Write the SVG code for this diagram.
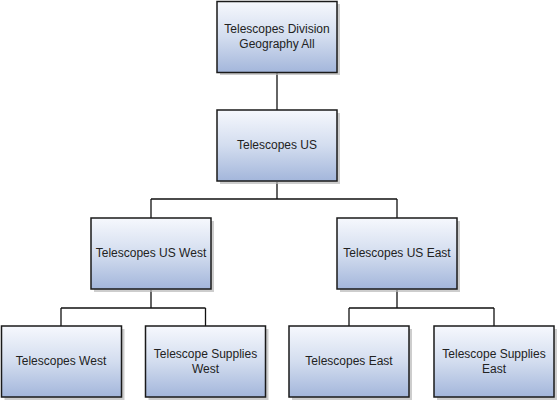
<svg xmlns="http://www.w3.org/2000/svg" width="558" height="402" viewBox="0 0 558 402">
<defs>
<linearGradient id="g" x1="0" y1="0" x2="0" y2="1">
<stop offset="0" stop-color="#f6f8fd"/>
<stop offset="0.5" stop-color="#d3ddef"/>
<stop offset="1" stop-color="#a3b6db"/>
</linearGradient>
<style>
.box{fill:url(#g);stroke:#1a1a1a;stroke-width:1.5}
.sh{fill:#b8b8b8;opacity:0.7}
.t{font-family:"Liberation Sans",Arial,sans-serif;font-size:12px;fill:#222;text-anchor:middle}
.c{fill:none;stroke:#111;stroke-width:1.3}
</style>
</defs>
<g id="connectors">
<path class="c" d="M277 73V110"/>
<path class="c" d="M277 182V199M151 199H397M151 199V218M397 199V218"/>
<path class="c" d="M151 290V308M61 308H205.5M61 308V326M205.5 308V326"/>
<path class="c" d="M397 290V308M349 308H494M349 308V326M494 308V326"/>
</g>
<g id="n1"><rect class="sh" x="220" y="4" width="120" height="71"/><rect class="box" x="217" y="1.5" width="120" height="71"/><text class="t" x="277" y="33">Telescopes Division</text><text class="t" x="277" y="48">Geography All</text></g>
<g id="n2"><rect class="sh" x="220" y="113" width="120" height="71"/><rect class="box" x="217" y="110" width="120" height="71"/><text class="t" x="277" y="149">Telescopes US</text></g>
<g id="n3"><rect class="sh" x="94" y="221" width="120" height="71"/><rect class="box" x="91" y="218" width="120" height="71"/><text class="t" x="151" y="257">Telescopes US West</text></g>
<g id="n4"><rect class="sh" x="340" y="221" width="120" height="71"/><rect class="box" x="337" y="218" width="120" height="71"/><text class="t" x="397" y="257">Telescopes US East</text></g>
<g id="n5"><rect class="sh" x="4.5" y="329" width="120" height="71"/><rect class="box" x="1.5" y="326" width="120" height="71"/><text class="t" x="61" y="365">Telescopes West</text></g>
<g id="n6"><rect class="sh" x="148.5" y="329" width="120" height="71"/><rect class="box" x="145.5" y="326" width="120" height="71"/><text class="t" x="205.5" y="358">Telescope Supplies</text><text class="t" x="205.5" y="373">West</text></g>
<g id="n7"><rect class="sh" x="292" y="329" width="120" height="71"/><rect class="box" x="289" y="326" width="120" height="71"/><text class="t" x="349" y="365">Telescopes East</text></g>
<g id="n8"><rect class="sh" x="437" y="329" width="120" height="71"/><rect class="box" x="434" y="326" width="120" height="71"/><text class="t" x="494" y="358">Telescope Supplies</text><text class="t" x="494" y="373">East</text></g>
</svg>
